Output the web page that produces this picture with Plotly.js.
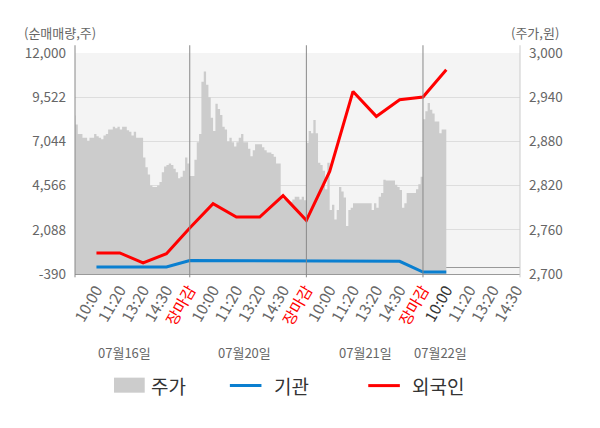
<!DOCTYPE html>
<html>
<head>
<meta charset="utf-8">
<script src="https://cdn.plot.ly/plotly-3.0.1.min.js"></script>
<style>
  html, body { margin: 0; padding: 0; background: #fff; }
  #chart { width: 600px; height: 428px; }
</style>
</head>
<body>
<div id="chart"></div>
<script>
// 주가 (intraday, one value per 0.1 tick slot)
const priceDay1 = [2915, 2903, 2890, 2890, 2885, 2885, 2881, 2885, 2885, 2890,
                   2887, 2885, 2883, 2888, 2890, 2896, 2896, 2900, 2898, 2900,
                   2896, 2900, 2900, 2895, 2893, 2888, 2893, 2885, 2885, 2885,
                   2858, 2845, 2835, 2820, 2818, 2818, 2820, 2825, 2838, 2846,
                   2848, 2850, 2848, 2843, 2838, 2830, 2832, 2840, 2858, 2850];
const priceDay2 = [2833, 2833, 2855, 2879, 2890, 2961, 2975, 2957, 2940, 2912,
                   2894, 2931, 2924, 2916, 2900, 2896, 2880, 2885, 2879, 2873,
                   2879, 2885, 2890, 2879, 2879, 2870, 2860, 2868, 2876, 2876,
                   2876, 2872, 2868, 2865, 2865, 2863, 2859, 2850, 2850, 2805,
                   2801, 2801, 2798, 2798, 2801, 2805, 2805, 2801, 2805, 2800];
const priceDay3 = [2878, 2894, 2891, 2909, 2891, 2851, 2848, 2840, 2815, 2851,
                   2787, 2794, 2774, 2787, 2818, 2812, 2804, 2765, 2787, 2790,
                   2796, 2796, 2796, 2796, 2796, 2796, 2796, 2796, 2787, 2796,
                   2790, 2805, 2810, 2828, 2827, 2827, 2827, 2827, 2821, 2818,
                   2814, 2790, 2796, 2810, 2810, 2810, 2810, 2815, 2822, 2832];
const priceDay4 = [2910, 2921, 2932, 2923, 2918, 2907, 2907, 2891, 2896, 2896, 2887];

// 순매매량 (one value per tick)
const foreign = [788, 788, 227, 749, 2190, 3552, 2806, 2806, 4000, 2616,
                 5363, 9847, 8446, 9382, 9533, 11064];
const institution = [0, 0, 0, 0, 360, 360, 360, 360, 360, 320,
                     320, 320, 320, 320, -280, -280];

const timeLabels = ['10:00', '11:20', '13:20', '14:30', '장마감',
                    '10:00', '11:20', '13:20', '14:30', '장마감',
                    '10:00', '11:20', '13:20', '14:30', '장마감',
                    '10:00', '11:20', '13:20', '14:30'];
const dateLabels = ['07월16일', '07월20일', '07월21일', '07월22일'];
const datePos = [2.19, 7.36, 12.53, 15.73];
const dayBreaks = [5, 10, 15];

const leftTicks = [-390, 2088, 4566, 7044, 9522, 12000];
const rightTicks = [2700, 2760, 2820, 2880, 2940, 3000];

// build the price x positions (each day spans 5 tick units)
const priceX = [], priceY = [];
[priceDay1, priceDay2, priceDay3, priceDay4].forEach((day, d) => {
    day.forEach((v, k) => {
        priceX.push(d * 5 + k / 10);
        priceY.push(v);
    });
});
const lineX = foreign.map((v, i) => i + 1);
const tickX = timeLabels.map((t, i) => i + 1);

const tickText = timeLabels.map((t, i) => {
    if (t === '장마감') return '<span style="color:#ff0000">' + t + '</span>';
    if (i === 15) return '<span style="color:#333333">' + t + '</span>';
    return t;
});

const FONT = '"Noto Sans CJK KR", "Noto Sans", sans-serif';

// price area sits on the base axis so the net-buy lines are drawn above it
const traces = [
    {
        x: priceX, y: priceY, yaxis: 'y', name: '주가',
        type: 'scatter', mode: 'lines',
        line: { color: '#cccccc', width: 0, shape: 'hv' },
        fill: 'tozeroy', fillcolor: '#cccccc'
    },
    {
        x: lineX, y: institution, yaxis: 'y2', name: '기관',
        type: 'scatter', mode: 'lines',
        line: { color: '#0a7fd0', width: 3 }
    },
    {
        x: lineX, y: foreign, yaxis: 'y2', name: '외국인',
        type: 'scatter', mode: 'lines',
        line: { color: '#ff0000', width: 3 }
    }
];

const shapes = [];
dayBreaks.forEach(b => {
    shapes.push({ type: 'line', xref: 'x', yref: 'paper', x0: b, x1: b, y0: -0.015, y1: 1.035,
                  line: { color: '#888888', width: 1 } });
});
shapes.push({ type: 'line', xref: 'paper', yref: 'paper', x0: 0, x1: 0, y0: -0.015, y1: 1.035,
              line: { color: '#888888', width: 1 } });
shapes.push({ type: 'line', xref: 'paper', yref: 'paper', x0: 1, x1: 1, y0: -0.015, y1: 1.035,
              line: { color: '#cccccc', width: 1 } });
// legend swatches
shapes.push({ type: 'rect', xref: 'paper', yref: 'paper', x0: 0.0877, x1: 0.1567, y0: -0.537, y1: -0.469,
              fillcolor: '#cccccc', line: { width: 0 } });
shapes.push({ type: 'line', xref: 'paper', yref: 'paper', x0: 0.348, x1: 0.419, y0: -0.505, y1: -0.505,
              line: { color: '#0a7fd0', width: 3 } });
shapes.push({ type: 'line', xref: 'paper', yref: 'paper', x0: 0.659, x1: 0.730, y0: -0.505, y1: -0.505,
              line: { color: '#ff0000', width: 3 } });

const annotations = [
    { text: '(순매매량,주)', xref: 'paper', yref: 'paper', x: -0.12, y: 1.092,
      xanchor: 'left', yanchor: 'middle', showarrow: false, font: { size: 13, color: '#666666' } },
    { text: '(주가,원)', xref: 'paper', yref: 'paper', x: 0.975, y: 1.092,
      xanchor: 'left', yanchor: 'middle', showarrow: false, font: { size: 13, color: '#666666' } }
];
dateLabels.forEach((d, i) => {
    annotations.push({ text: d, xref: 'x', yref: 'paper', x: datePos[i], y: -0.356,
                       xanchor: 'center', yanchor: 'middle', showarrow: false,
                       font: { size: 13, color: '#666666' } });
});
[['주가', 0.1664], ['기관', 0.4416], ['외국인', 0.7526]].forEach(([t, x]) => {
    annotations.push({ text: t, xref: 'paper', yref: 'paper', x: x, y: -0.505,
                       xanchor: 'left', yanchor: 'middle', showarrow: false,
                       font: { size: 19, color: '#333333' } });
});

const layout = {
    width: 600, height: 428,
    margin: { l: 75, r: 80, t: 53, b: 154 },
    paper_bgcolor: '#ffffff',
    plot_bgcolor: '#f4f4f4',
    font: { family: FONT, size: 13, color: '#666666' },
    showlegend: false,
    hovermode: false,
    xaxis: {
        range: [0.08, 19.16],
        tickvals: tickX, ticktext: tickText,
        tickangle: -60,
        tickfont: { size: 15.5, color: '#666666' },
        showgrid: false, zeroline: false,
        showline: true, linecolor: '#999999', linewidth: 1,
        ticks: ''
    },
    yaxis: {
        side: 'right',
        range: [2700, 3000],
        tickvals: rightTicks,
        ticktext: rightTicks.map(v => v.toLocaleString('en-US')),
        tickfont: { size: 13.5, color: '#666666' },
        showgrid: false, zeroline: false, showline: false,
        ticks: '', ticklabelstandoff: 8
    },
    yaxis2: {
        overlaying: 'y', side: 'left',
        range: [-390, 12000],
        tickvals: leftTicks,
        ticktext: leftTicks.map(v => v.toLocaleString('en-US')),
        tickfont: { size: 13.5, color: '#666666' },
        showgrid: true, gridcolor: '#dddddd', gridwidth: 1,
        zeroline: true, zerolinecolor: '#999999', zerolinewidth: 1,
        showline: false, ticks: '', ticklabelstandoff: 8
    },
    shapes: shapes,
    annotations: annotations
};

Plotly.newPlot('chart', traces, layout, { displayModeBar: false, staticPlot: true });
</script>
</body>
</html>
